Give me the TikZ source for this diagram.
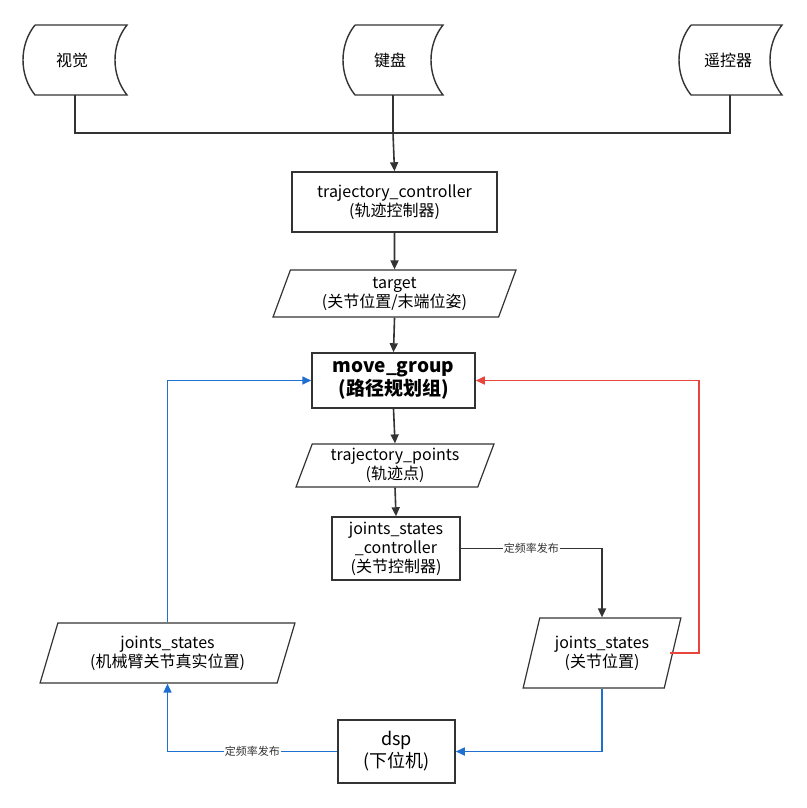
\documentclass[tikz,border=0pt]{standalone}
\usepackage{fontspec}
\setmainfont{Noto Sans CJK SC}
\usetikzlibrary{shapes.geometric,arrows.meta}
\definecolor{ln}{HTML}{333333}
\definecolor{bl}{HTML}{1F6FD1}
\definecolor{rd}{HTML}{E8453C}
\tikzset{
  box/.style={draw=ln,line width=1.5pt,fill=white,align=center,font=\fontsize{16}{19}\selectfont,inner sep=0pt},
  para/.style={draw=ln,line width=1.2pt,trapezium,trapezium left angle=70,trapezium right angle=110,trapezium stretches=true,align=center,font=\fontsize{16}{19}\selectfont,inner sep=0pt},
  con/.style={line width=1.6pt,ln},
  arr/.style={con,-{Triangle[length=9pt,width=8pt]}},
  barr/.style={line width=1.6pt,draw=bl,-{Triangle[length=9pt,width=8pt]}},
  lab/.style={fill=white,text=ln,font=\fontsize{11}{13}\selectfont,inner sep=1pt},
  drum/.style={draw=ln,line width=1.4pt}
}
\newcommand{\drum}[3]{% x0, x1, name
  \draw[drum] (#1+12,25) -- (#2,25) .. controls (#2-16,45) and (#2-16,75) .. (#2,95) -- (#1+12,95) .. controls (#1-4,75) and (#1-4,45) .. (#1+12,25);
}
\begin{document}
\begin{tikzpicture}[x=1pt,y=-1pt]
\useasboundingbox (0,0) rectangle (806,808);
\drum{23}{127}{a}
\drum{343}{443}{b}
\drum{679}{782}{c}
\node[font=\fontsize{16}{19}\selectfont] (v) at (72,60) {视觉};
\node[font=\fontsize{16}{19}\selectfont] (k) at (390,60) {键盘};
\node[font=\fontsize{16}{19}\selectfont] (y) at (728,60) {遥控器};
\coordinate (va) at (75,95); \coordinate (ka) at (393,95); \coordinate (ya) at (730,95);
\coordinate (j) at (393,133);
\node[box,minimum width=205,minimum height=60] (tc) at (394.5,202) {trajectory\_controller\\(轨迹控制器)};
\node[para,minimum width=243,minimum height=47] (tg) at (394.5,293.5) {target\\(关节位置/末端位姿)};
\node[box,minimum width=163,minimum height=55,font=\fontsize{19}{23}\selectfont\bfseries] (mg) at (393.5,380.5) {move\_group\\(路径规划组)};
\node[para,minimum width=198,minimum height=43] (tp) at (395,465.5) {trajectory\_points\\(轨迹点)};
\node[box,minimum width=128,minimum height=63] (jc) at (396,548.5) {joints\_states\\\_controller\\(关节控制器)};
\node[para,minimum width=158,minimum height=70] (jr) at (602,653) {joints\_states\\(关节位置)};
\node[para,minimum width=255,minimum height=60] (jl) at (167.5,653) {joints\_states\\(机械臂关节真实位置)};
\node[box,minimum width=117,minimum height=63,font=\fontsize{18}{22}\selectfont] (dsp) at (396.5,751.5) {dsp\\(下位机)};
\draw[con] (va) -- (75,133) -- (730,133) -- (ya);
\draw[con] (ka) -- (j);
\draw[arr] (j) -- (tc.north);
\draw[arr] (tc.south) -- (tg.north);
\draw[arr] (tg.south) -- (mg.north);
\draw[arr] (mg.south) -- (tp.north);
\draw[arr] (tp.south) -- (jc.north);
\draw[arr] (jc.east) -| node[lab,pos=0.25]{定频率发布} (jr.north);
\draw[line width=1.6pt,draw=rd,-{Triangle[length=9pt,width=8pt]}] (670,653) -- (699,653) |- (mg.east);
\draw[barr] (jr.south) |- (dsp.east);
\draw[barr] (dsp.west) -| node[lab,pos=0.25]{定频率发布} (jl.south);
\draw[barr] (jl.north) |- (mg.west);
\end{tikzpicture}
\end{document}
